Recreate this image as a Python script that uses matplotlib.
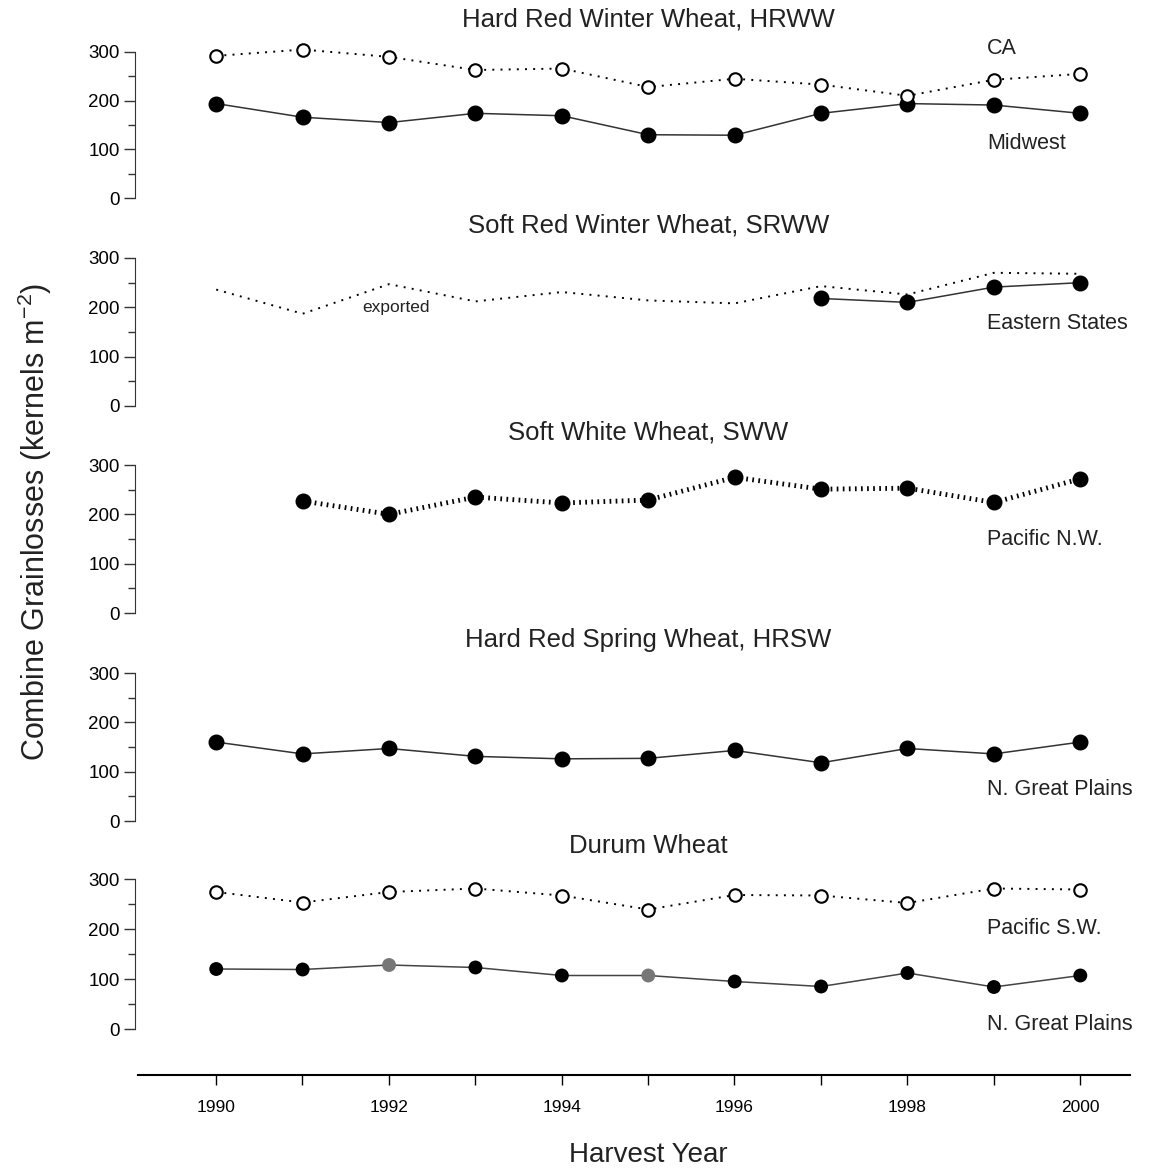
import matplotlib
matplotlib.use('Agg')
from matplotlib import pyplot as plt
import numpy as np

plt.rcParams['font.family'] = ['Liberation Sans', 'DejaVu Sans']

#%% datos (kernels m-2) por clase de trigo
years = np.arange(1990, 2001)

hrww_ca = [292, 305, 290, 263, 266, 228, 245, 233, 210, 243, 255]
hrww_midwest = [194, 166, 155, 174, 169, 130, 129, 174, 194, 191, 174]

srww_exported = [236, 187, 247, 212, 231, 214, 208, 243, 226, 270, 268]
srww_years = [1997, 1998, 1999, 2000]
srww_eastern = [218, 210, 241, 250]

sww_years = np.arange(1991, 2001)
sww_pnw = [227, 200, 235, 223, 229, 275, 251, 253, 224, 272]

hrsw_ngp = [160, 136, 147, 131, 126, 127, 143, 118, 147, 136, 160]

durum_psw = [274, 253, 274, 281, 267, 239, 268, 267, 252, 281, 279]
durum_ngp = [120, 119, 128, 123, 107, 107, 95, 85, 112, 84, 107]
durum_ngp_gris = [False, False, True, False, False, True, False, False, False, False, False]

titulos = ['Hard Red Winter Wheat, HRWW', 'Soft Red Winter Wheat, SRWW',
           'Soft White Wheat, SWW', 'Hard Red Spring Wheat, HRSW', 'Durum Wheat']

#%% figura
W, H = 1161, 1170
fig = plt.figure(figsize=(W / 100, H / 100), dpi=100)

x0, x1 = 135, 1130            # pixeles del eje x
xlim = (1989.06, 2000.575)
filas = [(52, 198), (258, 406), (465, 613), (673, 821), (879, 1029)]  # (300, 0) en pixeles

axes = []
for top, bot in filas:
    ax = fig.add_axes([x0 / W, 1 - bot / H, (x1 - x0) / W, (bot - top) / H])
    ax.set_xlim(xlim)
    ax.set_ylim(0, 300)
    for s in ['top', 'right', 'bottom']:
        ax.spines[s].set_visible(False)
    ax.spines['left'].set_color('#333333')
    ax.set_xticks([])
    ax.set_yticks([0, 100, 200, 300])
    ax.set_yticks([50, 150, 250], minor=True)
    ax.tick_params(axis='y', which='major', direction='out', length=8, width=1,
                   labelsize=13.5, color='#333333', pad=3)
    ax.tick_params(axis='y', which='minor', direction='out', length=5, width=1, color='#333333')
    ax.patch.set_alpha(0)
    axes.append(ax)

punteado = (0, (1, 3.2))
kw_abierto = dict(marker='o', markersize=9, markerfacecolor='white', markeredgecolor='black',
                  markeredgewidth=1.5, color='black', lw=1.4, ls=punteado, clip_on=False)
kw_lleno = dict(marker='o', markersize=10.5, markerfacecolor='black', markeredgecolor='black',
                color='#333333', lw=1.1, ls='-', clip_on=False)

# HRWW
ax = axes[0]
ax.plot(years, hrww_midwest, **kw_lleno)
ax.plot(years, hrww_ca, **kw_abierto)

# SRWW
ax = axes[1]
ax.plot(years, srww_exported, color='black', lw=1.4, ls=punteado, clip_on=False)
ax.plot(srww_years, srww_eastern, **kw_lleno)

# SWW
ax = axes[2]
ax.plot(sww_years, sww_pnw, marker='o', markersize=10.5, color='black', lw=3.5,
        ls=(0, (0.35, 0.9)), clip_on=False)

# HRSW
ax = axes[3]
ax.plot(years, hrsw_ngp, **kw_lleno)

# Durum
ax = axes[4]
ax.plot(years, durum_psw, **kw_abierto)
ax.plot(years, durum_ngp, color='#444444', lw=1.1, clip_on=False)
col_ngp = ['#777777' if g else 'black' for g in durum_ngp_gris]
ax.scatter(years, durum_ngp, s=100, c=col_ngp, edgecolors='none', zorder=3, clip_on=False)

#%% textos
for ax, t in zip(axes, titulos):
    ax.text(1995, 1.22, t, transform=ax.get_xaxis_transform(), ha='center', va='center',
            fontsize=18.5, color='#222222')

xl = 1998.92
fs_reg = 15.5
axes[0].text(xl, 308, 'CA', fontsize=fs_reg, va='center', color='#222222')
axes[0].text(xl, 113, 'Midwest', fontsize=fs_reg, va='center', color='#222222')
axes[1].text(xl, 168, 'Eastern States', fontsize=fs_reg, va='center', color='#222222')
axes[1].text(1992.08, 199, 'exported', fontsize=12.5, va='center', ha='center', color='#222222')
axes[2].text(xl, 148, 'Pacific N.W.', fontsize=fs_reg, va='center', color='#222222')
axes[3].text(xl, 63, 'N. Great Plains', fontsize=fs_reg, va='center', color='#222222')
axes[4].text(xl, 202, 'Pacific S.W.', fontsize=fs_reg, va='center', color='#222222')
axes[4].text(xl, 8, 'N. Great Plains', fontsize=fs_reg, va='center', color='#222222')

#%% eje inferior de años
axb = fig.add_axes([138 / W, 1 - 1075 / H, (x1 - 138) / W, 0.001])
axb.set_xlim(1989.1, 2000.575)
for s in ['top', 'right', 'left']:
    axb.spines[s].set_visible(False)
axb.spines['bottom'].set_linewidth(1.5)
axb.set_yticks([])
axb.set_xticks(np.arange(1990, 2001, 2))
axb.set_xticks(np.arange(1991, 2001, 2), minor=True)
axb.tick_params(axis='x', which='both', direction='out', length=7, width=1, labelsize=12.5, pad=11)

fig.text(648 / W, 1 - 1155 / H, 'Harvest Year', ha='center', va='center', fontsize=20, color='#222222')
fig.text(35 / W, 1 - 522 / H, 'Combine Grainlosses (kernels m$^{\\mathregular{-2}}$)', rotation=90,
         ha='center', va='center', fontsize=22, color='#222222')

plt.savefig('out.png', dpi=100)
